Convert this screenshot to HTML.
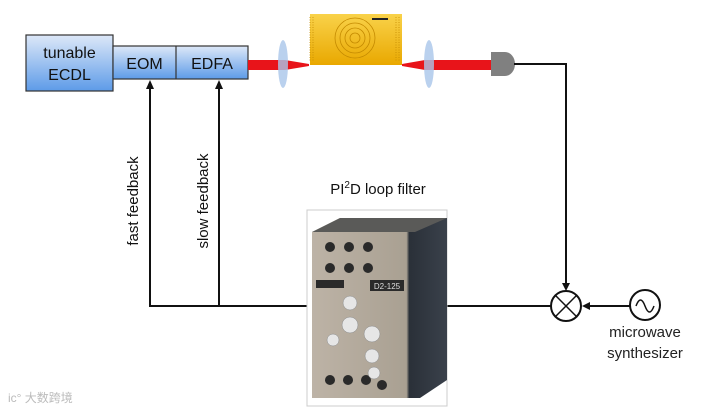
<!DOCTYPE html>
<html><head><meta charset="utf-8"><style>
body{margin:0;background:#fff;width:707px;height:411px;overflow:hidden}
text{font-family:"Liberation Sans",Arial,sans-serif}
</style></head><body>
<svg width="707" height="411" viewBox="0 0 707 411" xmlns="http://www.w3.org/2000/svg">
<defs>
<linearGradient id="bl" x1="0" y1="0" x2="0" y2="1"><stop offset="0" stop-color="#dde8f8"/><stop offset="1" stop-color="#5d9be8"/></linearGradient>
<linearGradient id="gold" x1="0" y1="0" x2="0" y2="1"><stop offset="0" stop-color="#f9d24a"/><stop offset="1" stop-color="#e9a800"/></linearGradient>
<linearGradient id="dev" x1="0" y1="0" x2="1" y2="0"><stop offset="0" stop-color="#bdb3a6"/><stop offset="0.7" stop-color="#a9a092"/><stop offset="0.72" stop-color="#2a3038"/><stop offset="1" stop-color="#3a414b"/></linearGradient>
</defs>
<rect x="26" y="35" width="87" height="56" fill="url(#bl)" stroke="#333" stroke-width="1.2"/>
<text x="69.5" y="58" font-size="16" text-anchor="middle" fill="#111">tunable</text>
<text x="69.5" y="80" font-size="16" text-anchor="middle" fill="#111">ECDL</text>
<rect x="113" y="46" width="135" height="33" fill="url(#bl)" stroke="#333" stroke-width="1.2"/>
<line x1="176" y1="46" x2="176" y2="79" stroke="#333" stroke-width="1.2"/>
<text x="144.5" y="69" font-size="16" text-anchor="middle" fill="#111">EOM</text>
<text x="212" y="69" font-size="16" text-anchor="middle" fill="#111">EDFA</text>
<polygon points="248,60 285,60 309,64 309,66 285,70 248,70" fill="#e8141a"/>
<polygon points="402,64 425,60 492,60 492,70 425,70 402,66" fill="#e8141a"/>
<ellipse cx="283" cy="64" rx="5" ry="24" fill="#a9c6ea" opacity="0.8"/>
<ellipse cx="429" cy="64" rx="5" ry="24" fill="#a9c6ea" opacity="0.8"/>
<rect x="310" y="14" width="92" height="51" fill="url(#gold)"/>
<g stroke="#c48a00" stroke-width="0.8" fill="none">
<circle cx="355" cy="38" r="20"/><circle cx="355" cy="38" r="15"/><circle cx="355" cy="38" r="10"/><circle cx="355" cy="38" r="5"/>
<path d="M310 17v45M313 17v45M396 17v45M399 17v45" stroke-dasharray="1 1.5"/>
</g>
<rect x="372" y="18" width="16" height="2" fill="#222"/>
<path d="M491 52 h14 a10 12 0 0 1 0 24 h-14 z" fill="#808080"/>
<g stroke="#111" stroke-width="2" fill="none">
<polyline points="514,64 566,64 566,286"/>
<line x1="551" y1="306" x2="447" y2="306"/>
<line x1="630" y1="306" x2="588" y2="306"/>
<polyline points="307,306 150,306 150,88"/>
<line x1="219" y1="306" x2="219" y2="88"/>
</g>
<g fill="#111">
<polygon points="566,291 562,283 570,283"/>
<polygon points="582,306 590,302 590,310"/>
<polygon points="150,80 146,89 154,89"/>
<polygon points="219,80 215,89 223,89"/>
</g>
<circle cx="566" cy="306" r="15" fill="#fff" stroke="#111" stroke-width="2"/>
<line x1="555.4" y1="295.4" x2="576.6" y2="316.6" stroke="#111" stroke-width="1.5"/>
<line x1="576.6" y1="295.4" x2="555.4" y2="316.6" stroke="#111" stroke-width="1.5"/>
<circle cx="645" cy="305" r="15" fill="#fff" stroke="#111" stroke-width="2"/>
<path d="M636 306 q4.5 -12 9 0 t9 0" fill="none" stroke="#111" stroke-width="1.5"/>
<text x="645" y="337" font-size="15" text-anchor="middle" fill="#222">microwave</text>
<text x="645" y="358" font-size="15" text-anchor="middle" fill="#222">synthesizer</text>
<text transform="translate(138,201) rotate(-90)" font-size="15" text-anchor="middle" fill="#111">fast feedback</text>
<text transform="translate(208,201) rotate(-90)" font-size="15" text-anchor="middle" fill="#111">slow feedback</text>
<text x="378" y="194" font-size="15" text-anchor="middle" fill="#111">PI<tspan font-size="10" dy="-6">2</tspan><tspan dy="6">D loop filter</tspan></text>
<rect x="307" y="210" width="140" height="196" fill="#fff" stroke="#ccc"/>
<polygon points="312,232 340,218 447,218 447,380 420,398 312,398" fill="url(#dev)"/>
<polygon points="312,232 340,218 447,218 415,232" fill="#5a5a58"/>
<g fill="#2a2a2a">
<circle cx="330" cy="247" r="5"/><circle cx="349" cy="247" r="5"/><circle cx="368" cy="247" r="5"/>
<circle cx="330" cy="268" r="5"/><circle cx="349" cy="268" r="5"/><circle cx="368" cy="268" r="5"/>
<rect x="316" y="280" width="28" height="8"/><rect x="370" y="280" width="34" height="11"/>
<circle cx="330" cy="380" r="5"/><circle cx="348" cy="380" r="5"/><circle cx="366" cy="380" r="5"/><circle cx="382" cy="385" r="5"/>
</g>
<text x="387" y="289" font-size="8" text-anchor="middle" fill="#ddd">D2-125</text>
<g fill="#e6e6e6" stroke="#888" stroke-width="0.5">
<circle cx="350" cy="303" r="7"/><circle cx="350" cy="325" r="8"/><circle cx="372" cy="334" r="8"/><circle cx="372" cy="356" r="7"/><circle cx="374" cy="373" r="6"/><circle cx="333" cy="340" r="6"/>
</g>
<text x="8" y="402" font-size="12" fill="#bbb" font-family="'Liberation Sans','Noto Sans CJK SC',sans-serif">ic° 大数跨境</text>
</svg>
</body></html>
